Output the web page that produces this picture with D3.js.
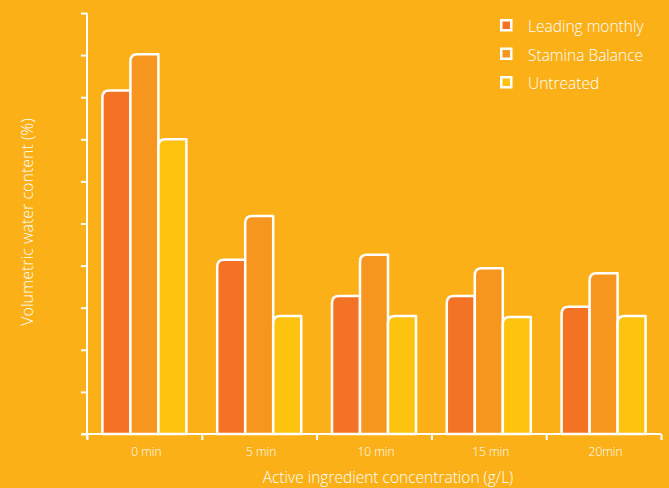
<!DOCTYPE html>
<html>
<head>
<meta charset="utf-8">
<script src="https://cdn.jsdelivr.net/npm/d3@7"></script>
<style>
  html, body { margin: 0; padding: 0; background: #fcb017; }
  text { font-family: "Open Sans", sans-serif; font-weight: 300; fill: #fff; }
</style>
</head>
<body>
<div class="chart"></div>
<script>
// データ
var categories = ["0 min", "5 min", "10 min", "15 min", "20min"];
var seriesNames = ["Leading monthly", "Stamina Balance", "Untreated"];
var leadingMonthly = [40.8, 20.7, 16.4, 16.4, 15.1];
var staminaBalance = [45.1, 25.9, 21.3, 19.7, 19.1];
var untreated = [35.0, 14.0, 14.0, 13.9, 14.0];
var colors = ["#f37224", "#f7961f", "#fec30f"];

var seriesValues = [leadingMonthly, staminaBalance, untreated];
var rows = categories.map(function(c, i) {
    return { cat: c, values: seriesNames.map(function(s, j) { return { key: s, j: j, value: seriesValues[j][i] }; }) };
});

var width = 669, height = 488;
var plot = { left: 87, right: 661, top: 13, bottom: 434 };

var svg = d3.select("div.chart").append("svg")
    .attr("width", width)
    .attr("height", height);

// 目盛りの設定
var x0 = d3.scaleBand().domain(categories).range([plot.left, plot.right]).padding(0);
var x1 = d3.scaleBand().domain(seriesNames).range([0, x0.bandwidth()]).paddingInner(0).paddingOuter(0.55);
var y = d3.scaleLinear().domain([0, 50]).range([plot.bottom, plot.top]);

// 左上だけ丸いバー
function barPath(x, yt, w, y0, r) {
    r = Math.min(r, y0 - yt);
    return "M" + x + "," + y0 + "V" + (yt + r) + "Q" + x + "," + yt + " " + (x + r) + "," + yt +
        "H" + (x + w) + "V" + y0 + "Z";
}

var groups = svg.selectAll(".grp").data(rows).enter().append("g")
    .attr("class", "grp")
    .attr("transform", function(d) { return "translate(" + x0(d.cat) + ",0)"; });

groups.selectAll("path").data(function(d) { return d.values; }).enter().append("path")
    .attr("d", function(d) { return barPath(x1(d.key), y(d.value), x1.bandwidth(), y(0), 7); })
    .attr("fill", function(d) { return colors[d.j]; })
    .attr("stroke", "#fff")
    .attr("stroke-width", 2.5)
    .attr("stroke-linejoin", "round");

// Y軸
var yAxis = d3.axisLeft(y).tickValues(d3.range(0, 51, 5)).tickSize(6).tickSizeOuter(0).tickFormat("");
var gy = svg.append("g").attr("transform", "translate(" + plot.left + ",0)").call(yAxis);
gy.select(".domain").attr("d", "M0," + (plot.top) + "V" + (plot.bottom + 5));

// X軸 (区切りの目盛り)
var xEdge = d3.scaleLinear().domain([0, categories.length]).range([plot.left, plot.right]);
var xAxis = d3.axisBottom(xEdge).tickValues(d3.range(0, categories.length + 1)).tickSize(6).tickSizeOuter(0).tickFormat("");
var gx = svg.append("g").attr("transform", "translate(0," + plot.bottom + ")").call(xAxis);
gx.select(".domain").attr("d", "M" + (plot.left - 5) + ",0H" + plot.right);

svg.selectAll(".domain, .tick line").attr("stroke", "#fff").attr("stroke-width", 2);

// カテゴリ名
svg.selectAll(".cat").data(categories).enter().append("text")
    .attr("class", "cat")
    .attr("x", function(d) { return x0(d) + x0.bandwidth() / 2 + 2; })
    .attr("y", 456)
    .attr("text-anchor", "middle")
    .style("font-size", "12px")
    .text(function(d) { return d; });

// 軸タイトル
svg.append("text")
    .attr("x", 388).attr("y", 483)
    .attr("text-anchor", "middle")
    .style("font-size", "15.5px")
    .text("Active ingredient concentration (g/L)");

svg.append("text")
    .attr("transform", "translate(33,222) rotate(-90)")
    .attr("text-anchor", "middle")
    .style("font-size", "16px")
    .text("Volumetric water content (%)");

// 凡例
var legend = svg.selectAll(".legend").data(seriesNames).enter().append("g")
    .attr("class", "legend")
    .attr("transform", function(d, i) { return "translate(500," + (19 + i * 28.5) + ")"; });

legend.append("rect")
    .attr("x", 1.25).attr("y", 1.25)
    .attr("width", 10).attr("height", 10)
    .attr("fill", function(d, i) { return colors[i]; })
    .attr("stroke", "#fff")
    .attr("stroke-width", 2.5);

legend.append("text")
    .attr("x", 28).attr("y", 13)
    .style("font-size", "15.5px")
    .text(function(d) { return d; });
</script>
</body>
</html>
